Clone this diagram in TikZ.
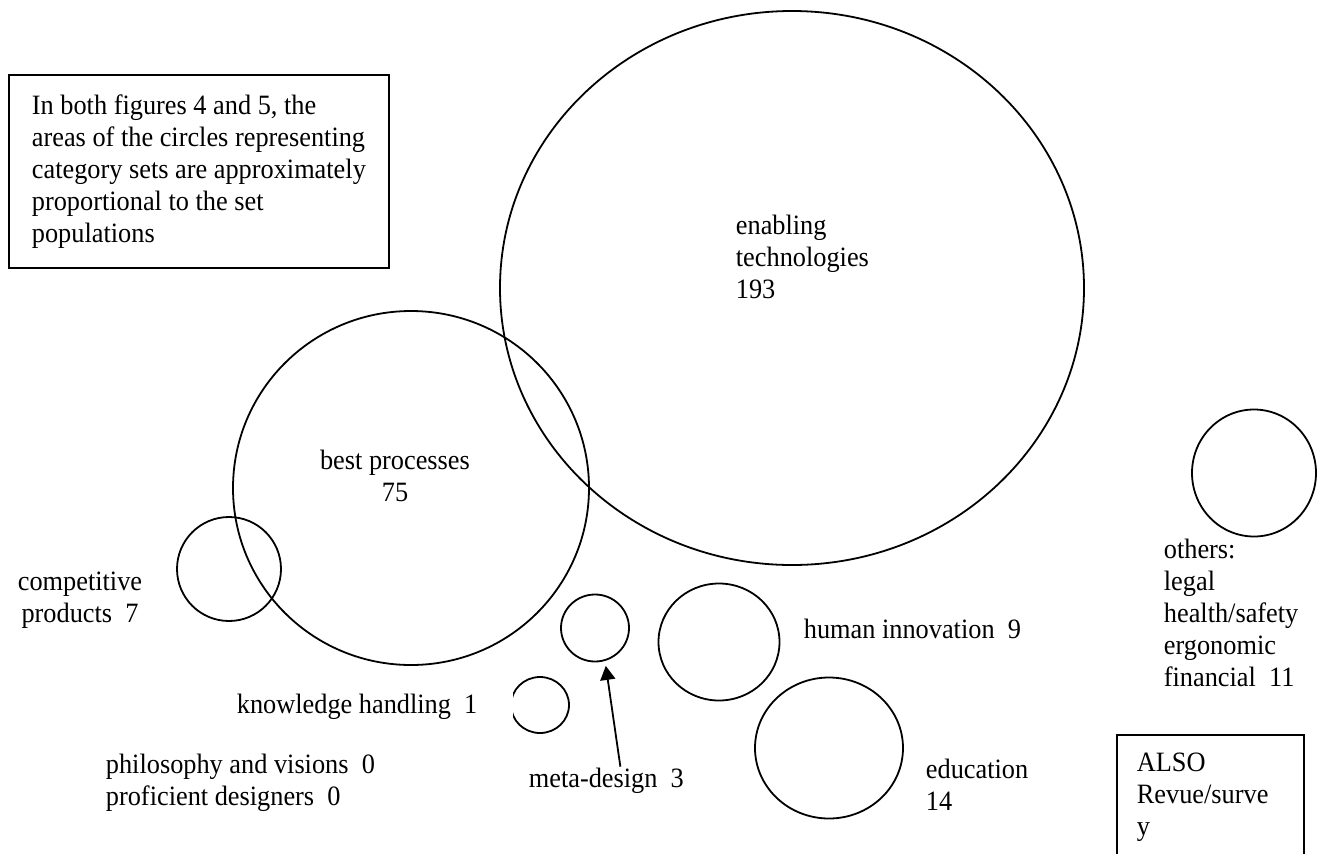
\documentclass[tikz,border=0pt]{standalone}
\usepackage{fontspec}
\setmainfont[FakeStretch=0.94]{Liberation Serif}
\usetikzlibrary{arrows.meta}
\usetikzlibrary{shapes.geometric}

\begin{document}
\begin{tikzpicture}[x=0.5pt, y=-0.5pt, line width=0.9pt,
    font=\fontsize{14}{16}\selectfont,
    set/.style={draw, ellipse, inner sep=0pt},
    lbl/.style={inner sep=0pt, align=left, anchor=base west},
    note/.style={draw, inner sep=0pt, align=left}] % Category sets

      \useasboundingbox (0,0) rectangle (1340,853);

      \node [note, anchor=north west, minimum width=190pt, minimum height=96.5pt] (notebox) at (8,74)
        {In both figures 4 and 5, the\\areas of the circles representing\\category sets are approximately\\proportional to the set\\populations};

      \node [set, minimum width=292pt, minimum height=277pt] (tech) at (792,288) {};
      \node [lbl] (techlbl) at (735,298) {enabling\\technologies\\193};

      \node [set, minimum width=178pt, minimum height=177pt] (best) at (411,488) {};
      \node [inner sep=0pt, align=center, anchor=base] (bestlbl) at (395,501) {best processes\\75};

      \node [set, minimum width=52pt, minimum height=52pt] (comp) at (229,569) {};
      \node [inner sep=0pt, align=center, anchor=base] (complbl) at (80,622) {competitive\\products~~7};

      \node [set, minimum width=34pt, minimum height=33.5pt] (meta) at (595,628) {};
      \node [lbl] (metalbl) at (528,787) {meta-design~~3};
      \draw [-{Triangle[length=7pt, width=7.5pt]}, shorten >=2.5pt] ([xshift=7pt]metalbl.north) -- (meta.-73);

      \begin{scope}
        \clip (513,660) rectangle (600,750);
        \node [set, minimum width=29pt, minimum height=28pt] (know) at (540,705) {};
      \end{scope}
      \node [lbl] (knowlbl) at (236,713) {knowledge handling~~1};

      \node [lbl] (zerolbl) at (105,805) {philosophy and visions~~0\\proficient designers~~0};

      \node [set, minimum width=60.5pt, minimum height=58.5pt] (human) at (719,642) {};
      \node [lbl] (humanlbl) at (803,638) {human innovation~~9};

      \node [set, minimum width=74pt, minimum height=70.5pt] (educ) at (829,748) {};
      \node [lbl] (educlbl) at (925,810) {education\\14};

      \node [set, minimum width=62pt, minimum height=63.5pt] (other) at (1254,473) {};
      \node [lbl] (otherlbl) at (1163,686) {others:\\legal\\health/safety\\ergonomic\\financial~~11};

      \node [note, anchor=north west, text width=73.5pt, inner xsep=10pt, inner ysep=9pt] (alsobox) at (1116,734)
        {ALSO\\Revue/surve\\y};

    \end{tikzpicture}
\end{document}
